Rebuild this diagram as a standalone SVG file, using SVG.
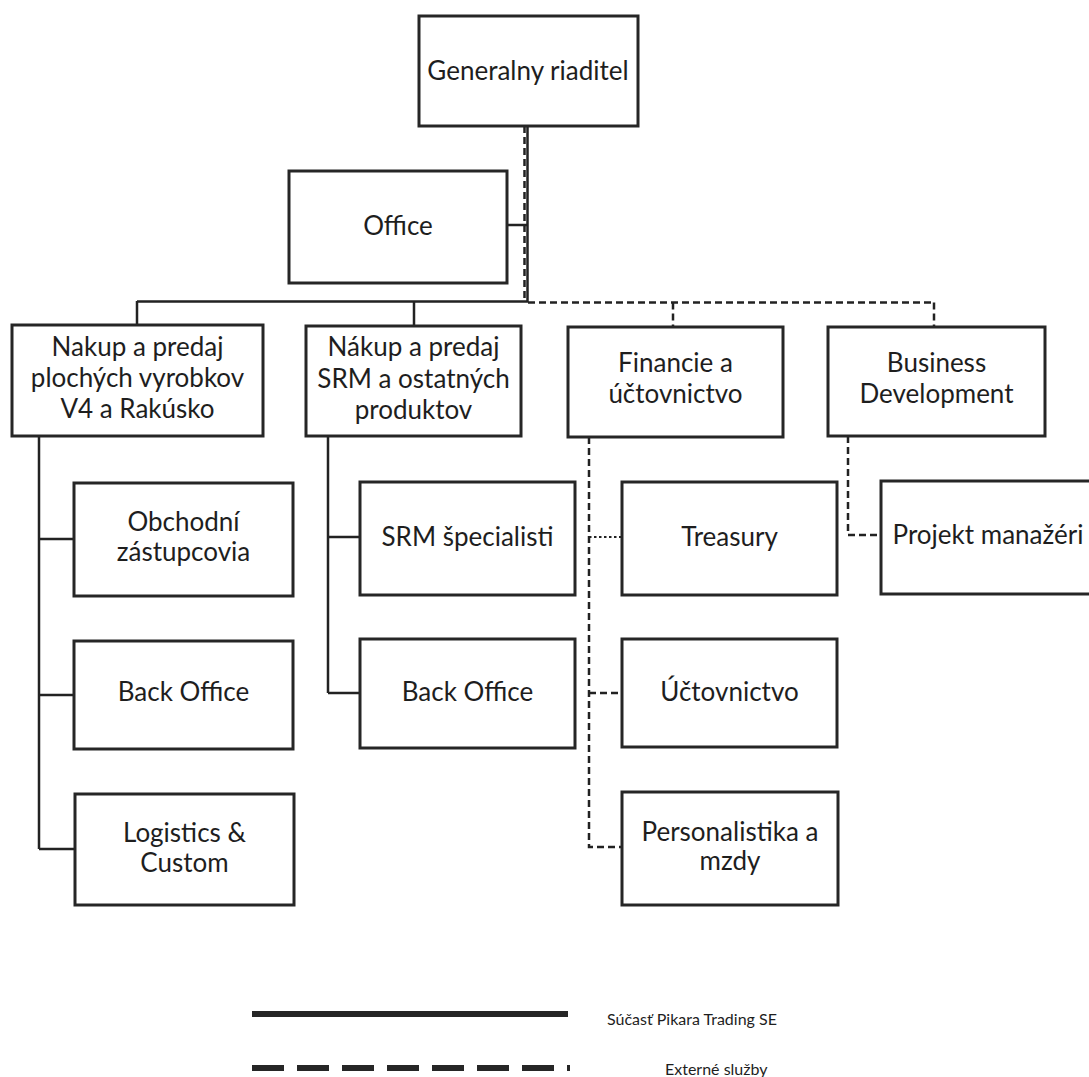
<svg xmlns="http://www.w3.org/2000/svg" width="1089" height="1077" viewBox="0 0 1089 1077">
<style>
.box{fill:#fff;stroke:#262626;stroke-width:3}
.t{font-family:Lato,"Open Sans","Liberation Sans",sans-serif;font-size:26px;fill:#1e1e1e;text-anchor:middle}
.lg{font-family:Lato,"Open Sans","Liberation Sans",sans-serif;font-size:16px;fill:#1e1e1e}
.s{fill:none;stroke:#222;stroke-width:2.5}
.d{fill:none;stroke:#222;stroke-width:2.5;stroke-dasharray:7 4}
.o{fill:none;stroke:#222;stroke-width:2;stroke-dasharray:2.5 2.5}
</style>
<rect width="1089" height="1077" fill="#fff"/>
<g id="connectors">
<path class="d" d="M524.5,126V301"/>
<path class="s" d="M527.5,126V302M507,225H527.5M137,301.5H528M137,301V325M414,301V325"/>
<path class="d" d="M528,302.5H934M673,302.5V327M934,302.5V327"/>
<path class="s" d="M39,436V849M39,539H74M39,695H74M39,849H74"/>
<path class="s" d="M328,436V693M328,537H360M328,693H360"/>
<path class="d" d="M589,437V847H622M589,693H622"/>
<path class="o" d="M589,537H622"/>
<path class="d" d="M848,436V535H881"/>
</g>
<g id="n-gr"><rect class="box" x="419" y="16" width="219" height="110"/><text class="t" x="528" y="80">Generalny riaditel</text></g>
<g id="n-office"><rect class="box" x="289" y="171" width="218" height="112"/><text class="t" x="398" y="235">Office</text></g>
<g id="n-nakup1"><rect class="box" x="12" y="325" width="251" height="111"/><text class="t" x="137.5" y="356">Nakup a predaj</text><text class="t" x="137.5" y="387">plochých vyrobkov</text><text class="t" x="137.5" y="418">V4 a Rakúsko</text></g>
<g id="n-nakup2"><rect class="box" x="306" y="326" width="215" height="110"/><text class="t" x="413.5" y="356">Nákup a predaj</text><text class="t" x="413.5" y="388">SRM a ostatných</text><text class="t" x="413.5" y="419">produktov</text></g>
<g id="n-fin"><rect class="box" x="568" y="327" width="215" height="110"/><text class="t" x="675.5" y="372">Financie a</text><text class="t" x="675.5" y="403">účtovnictvo</text></g>
<g id="n-bd"><rect class="box" x="828" y="327" width="217" height="109"/><text class="t" x="936.5" y="372">Business</text><text class="t" x="936.5" y="403">Development</text></g>
<g id="n-obch"><rect class="box" x="74" y="483" width="219" height="113"/><text class="t" x="183.5" y="531">Obchodní</text><text class="t" x="183.5" y="561">zástupcovia</text></g>
<g id="n-bo1"><rect class="box" x="74" y="641" width="219" height="108"/><text class="t" x="183.5" y="701">Back Office</text></g>
<g id="n-log"><rect class="box" x="75" y="794" width="219" height="111"/><text class="t" x="184.5" y="842">Logistics &amp;</text><text class="t" x="184.5" y="872">Custom</text></g>
<g id="n-srm"><rect class="box" x="360" y="482" width="215" height="113"/><text class="t" x="467.5" y="546">SRM špecialisti</text></g>
<g id="n-bo2"><rect class="box" x="360" y="639" width="215" height="109"/><text class="t" x="467.5" y="701">Back Office</text></g>
<g id="n-tre"><rect class="box" x="622" y="482" width="215" height="113"/><text class="t" x="729.5" y="546">Treasury</text></g>
<g id="n-uct"><rect class="box" x="622" y="639" width="215" height="108"/><text class="t" x="729.5" y="701">Účtovnictvo</text></g>
<g id="n-pers"><rect class="box" x="622" y="792" width="216" height="113"/><text class="t" x="730" y="841">Personalistika a</text><text class="t" x="730" y="870">mzdy</text></g>
<g id="n-proj"><rect class="box" x="881" y="481" width="230" height="113"/><text class="t" x="988" y="544">Projekt manažéri</text></g>
<g id="legend">
<line x1="252" y1="1014" x2="568" y2="1014" stroke="#262626" stroke-width="6"/>
<line x1="252" y1="1068" x2="570" y2="1068" stroke="#262626" stroke-width="6" stroke-dasharray="32 13"/>
<text class="lg" x="607" y="1025">Súčasť Pikara Trading SE</text>
<text class="lg" x="665" y="1075">Externé služby</text>
</g>
</svg>
